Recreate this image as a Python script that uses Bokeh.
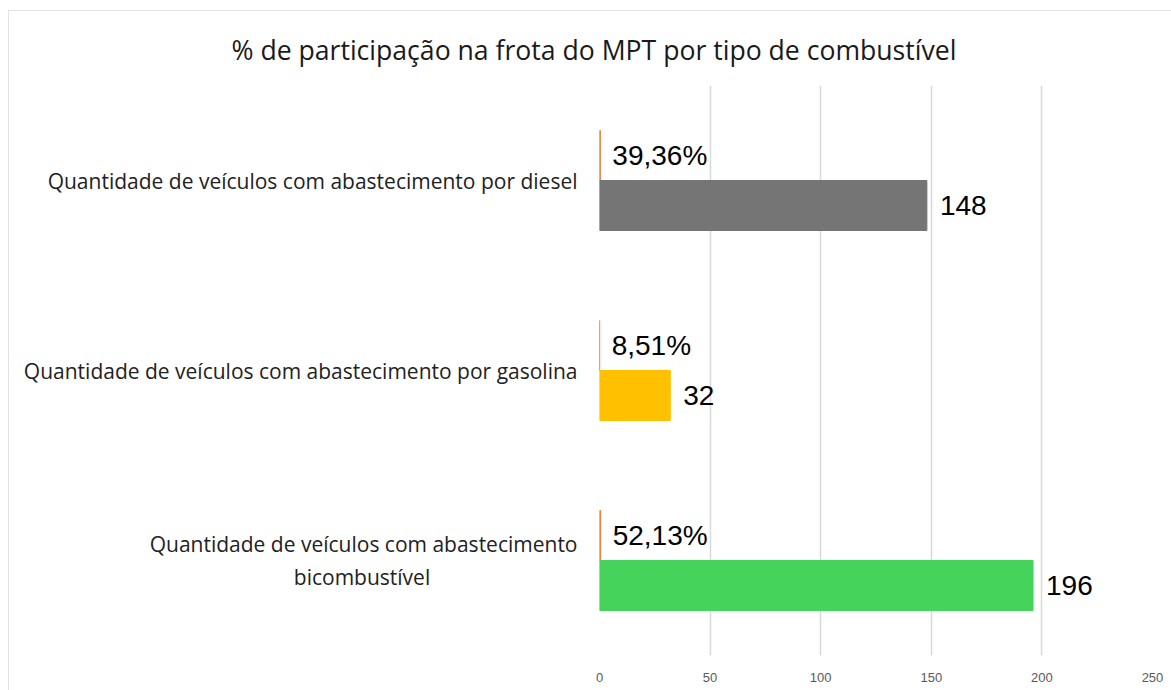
from bokeh.plotting import figure
from bokeh.models import FactorRange, ColumnDataSource, Title
from bokeh.transform import dodge
from bokeh.core.properties import value
from bokeh.embed import file_html
from bokeh.resources import INLINE

# ---- data ----
NBSP = "\u00a0"
categories = [
    "Quantidade de veículos com abastecimento por diesel",
    "Quantidade de veículos com abastecimento por gasolina",
    "Quantidade de veículos com abastecimento\nbicombustível" + NBSP * 27,
]
counts = [148, 32, 196]
percents = [0.3936, 0.0851, 0.5213]
percent_labels = ["39,36%", "8,51%", "52,13%"]
count_colors = ["#757575", "#FFC000", "#45D35C"]
x_ticks = [0, 50, 100, 150, 200, 250]
title_text = "% de participação na frota do MPT por tipo de combustível"

src = ColumnDataSource(dict(
    cat=categories, counts=counts, percents=percents,
    plab=percent_labels, clab=[str(c) for c in counts],
    color=count_colors,
))

p = figure(
    width=1163, height=680,
    y_range=FactorRange(factors=list(reversed(categories)), range_padding=0),
    x_range=(0, 250),
    output_backend="svg", toolbar_location=None,
    min_border_left=591, min_border_right=19,
    min_border_top=75, min_border_bottom=35,
    styles={"outline": "1px solid #d9d9d9", "outline-offset": "-1px",
            "margin-left": "8px", "margin-top": "10px"},
)

p.add_layout(Title(text=title_text, align="left", text_font="Open Sans",
                   text_font_size="26.6px", text_font_style="normal",
                   text_color="#1a1a1a", offset=-368, standoff=36), "above")

bh = 50 / 190.0
p.hbar(y=dodge("cat", bh / 2, range=p.y_range), right="percents", left=0,
       height=bh, color="#ED7D31", source=src)
p.hbar(y=dodge("cat", -bh / 2, range=p.y_range), right="counts", left=0,
       height=bh, color="color", source=src)

p.text(x="percents", y=dodge("cat", bh / 2, range=p.y_range), text="plab",
       x_offset=12, text_align="left", text_baseline="middle",
       text_font=value("Liberation Sans"), text_font_size="28px",
       text_color="#000000", source=src)
p.text(x="counts", y=dodge("cat", -bh / 2, range=p.y_range), text="clab",
       x_offset=13, text_align="left", text_baseline="middle",
       text_font=value("Liberation Sans"), text_font_size="28px",
       text_color="#000000", source=src)

# category axis
p.yaxis.axis_line_color = None
p.yaxis.major_tick_line_color = None
p.yaxis.minor_tick_line_color = None
p.yaxis.major_label_text_font = "Open Sans"
p.yaxis.major_label_text_font_size = "21px"
p.yaxis.major_label_text_color = "#222222"
p.yaxis.major_label_standoff = 16

p.xaxis.ticker = x_ticks
p.xaxis.axis_line_color = None
p.xaxis.major_tick_line_color = None
p.xaxis.minor_tick_line_color = None
p.xaxis.major_label_text_font = "Liberation Sans"
p.xaxis.major_label_text_font_size = "13px"
p.xaxis.major_label_text_color = "#595959"
p.xaxis.major_label_standoff = 11
p.xgrid.ticker = x_ticks
p.xgrid.grid_line_color = "#d9d9d9"
p.xgrid.grid_line_width = 1.5
p.ygrid.grid_line_color = None
p.outline_line_color = None

html = file_html(p, INLINE)
html = html.replace("<head>", "<head><style>html,body{overflow:hidden}</style>", 1)
open("out.html", "w").write(html)
